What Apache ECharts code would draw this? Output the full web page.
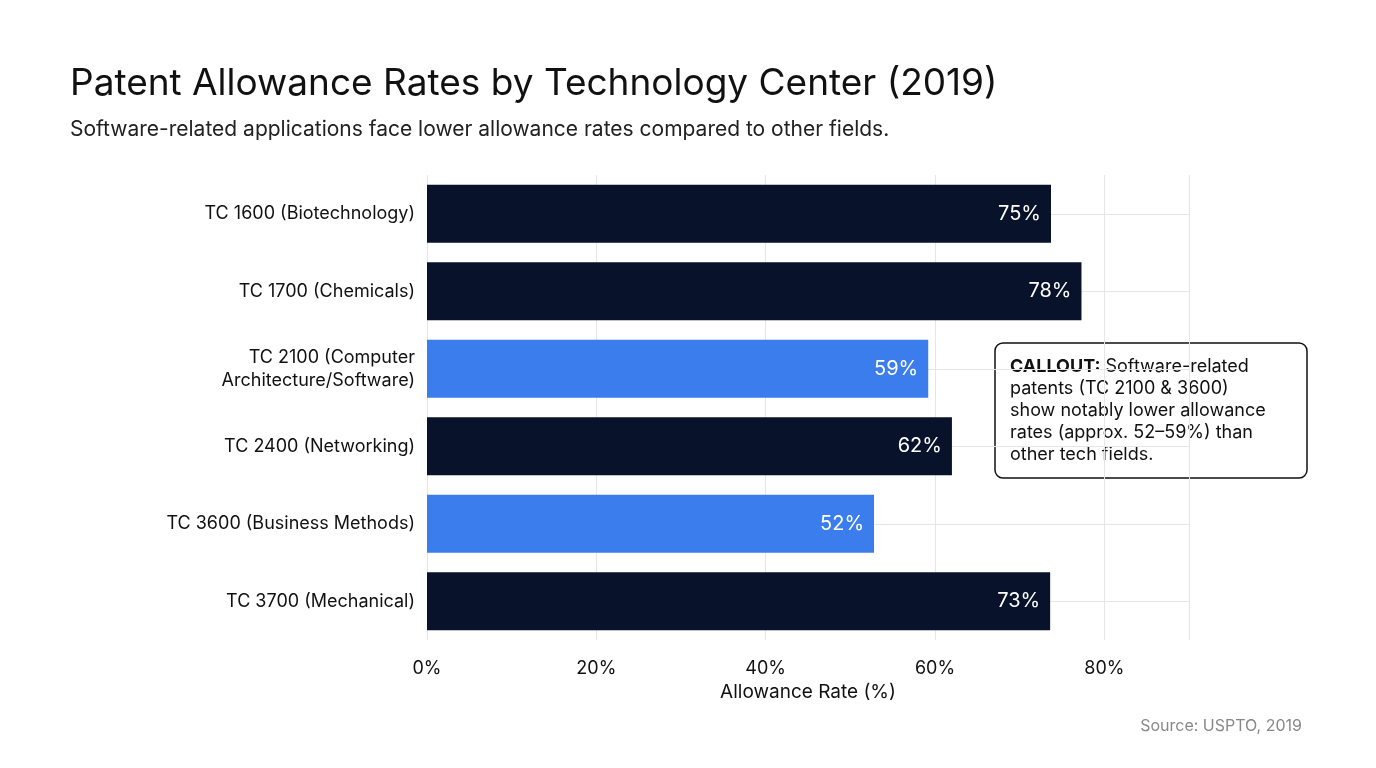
<!DOCTYPE html><html><head><meta charset="utf-8"><script src="https://cdn.jsdelivr.net/npm/echarts@6/dist/echarts.min.js"></script>
<style>html,body{margin:0;background:#fff}#c{width:1376px;height:768px}</style></head><body><div id="c"></div><script>
const categories=['TC 1600 (Biotechnology)','TC 1700 (Chemicals)','TC 2100 (Computer\nArchitecture/Software)','TC 2400 (Networking)','TC 3600 (Business Methods)','TC 3700 (Mechanical)'];
const values=[73.7,77.3,59.2,62,52.8,73.6];
const valueLabels=['75%','78%','59%','62%','52%','73%'];
const highlight=[false,false,true,false,true,false];
const xTicks=[0,20,40,60,80];
const chart=echarts.init(document.getElementById('c'));
const F='Inter, "Noto Sans", sans-serif';
chart.setOption({
 animation:false,
 title:[{text:'Patent Allowance Rates by Technology Center (2019)',left:65,top:60,textStyle:{fontFamily:F,fontSize:37,fontWeight:'normal',color:'#111'}},
 {text:'Software-related applications face lower allowance rates compared to other fields.',left:65,top:114,textStyle:{fontFamily:F,fontSize:21,fontWeight:'normal',color:'#222'}},
 {text:'Source: USPTO, 2019',right:69,top:713,textStyle:{fontFamily:F,fontSize:16,fontWeight:'normal',color:'#888'}}],
 grid:{left:427,right:187,top:175,bottom:128},
 xAxis:{type:'value',min:0,max:90,interval:20,name:'Allowance Rate (%)',nameLocation:'middle',nameGap:34,nameTextStyle:{fontFamily:F,fontSize:19,color:'#111'},
  axisLabel:{fontFamily:F,fontSize:18,color:'#111',margin:20,showMaxLabel:false,formatter:v=>xTicks.includes(v)?v+'%':''},
  axisLine:{show:false},axisTick:{show:false},splitLine:{lineStyle:{color:'#e6e6e6'}}},
 yAxis:{type:'category',inverse:true,data:categories,axisLine:{show:false},axisTick:{show:false},
  axisLabel:{fontFamily:F,fontSize:18,color:'#111',margin:12,lineHeight:23,align:'right'},
  splitLine:{show:true,alignWithLabel:true,lineStyle:{color:'#e6e6e6'}}},
 series:[{type:'bar',barWidth:58,data:values.map((v,i)=>({value:v,itemStyle:{color:highlight[i]?'#3b7ded':'#08122a'},label:{formatter:valueLabels[i]}})),
  label:{show:true,position:'insideRight',distance:10,color:'#fff',fontFamily:F,fontSize:20}}],
 graphic:[{type:'rect',shape:{x:995,y:343,width:312,height:135,r:8},style:{fill:'#fff',stroke:'#111',lineWidth:1.5}},
 {type:'text',x:1010,y:356,style:{fontFamily:F,fontSize:18,lineHeight:22,fill:'#111',
  text:'{b|CALLOUT:} Software-related\npatents (TC 2100 & 3600)\nshow notably lower allowance\nrates (approx. 52–59%) than\nother tech fields.',
  rich:{b:{fontWeight:'bold',fontFamily:F,fontSize:18}}}}]
});
</script></body></html>
